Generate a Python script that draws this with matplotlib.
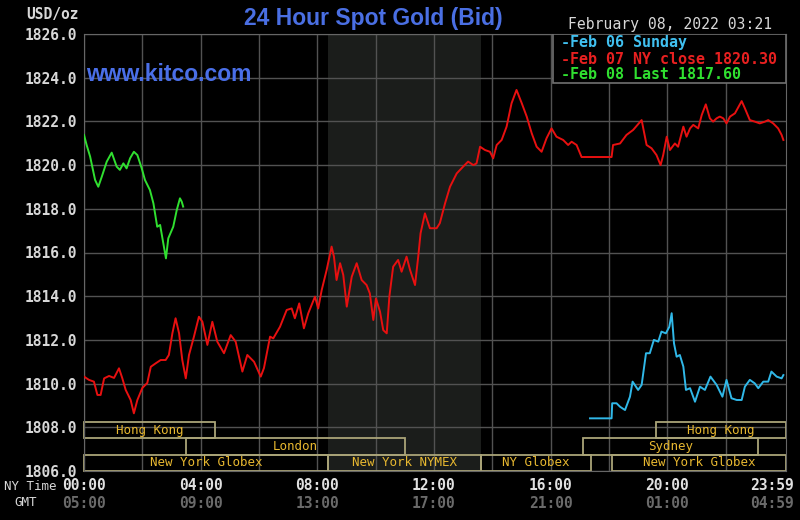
import numpy as np
import matplotlib.pyplot as plt
from matplotlib.patches import Rectangle
import matplotlib.transforms as mtransforms

# hours after 00:00 NY time, price in USD/oz
red_h = [0.00, 0.17, 0.34, 0.46, 0.57, 0.69, 0.86, 1.03, 1.20, 1.31, 1.43, 1.60, 1.71, 1.83,
         2.00, 2.17, 2.29, 2.46, 2.63, 2.80, 2.91, 3.03, 3.14, 3.26, 3.37, 3.49, 3.60, 3.77,
         3.94, 4.06, 4.23, 4.40, 4.57, 4.80, 5.03, 5.20, 5.43, 5.60, 5.83, 6.06, 6.17, 6.38,
         6.49, 6.72, 6.95, 7.12, 7.23, 7.38, 7.54, 7.69, 7.92, 8.03, 8.15, 8.32, 8.49, 8.57,
         8.66, 8.78, 8.89, 9.01, 9.18, 9.35, 9.52, 9.69, 9.80, 9.92, 10.01, 10.15, 10.26,
         10.38, 10.47, 10.60, 10.77, 10.89, 11.06, 11.18, 11.35, 11.46, 11.54, 11.69, 11.86,
         12.09, 12.20, 12.38, 12.55, 12.78, 13.00, 13.17, 13.35, 13.46, 13.58, 13.75, 13.92,
         14.03, 14.15, 14.32, 14.49, 14.66, 14.83, 15.01, 15.18, 15.35, 15.52, 15.69, 15.86,
         16.03, 16.20, 16.43, 16.60, 16.72, 16.89, 17.06, 18.09, 18.14, 18.38, 18.60, 18.83,
         19.12, 19.29, 19.46, 19.63, 19.77, 19.86, 19.98, 20.09, 20.26, 20.37, 20.55, 20.66,
         20.78, 20.89, 21.06, 21.18, 21.32, 21.46, 21.57, 21.69, 21.80, 21.92, 22.03, 22.15,
         22.32, 22.55, 22.66, 22.83, 23.00, 23.17, 23.35, 23.46, 23.63, 23.80, 23.92, 23.98]
red_p = [1810.32, 1810.17, 1810.09, 1809.48, 1809.48, 1810.24, 1810.35, 1810.26, 1810.70,
         1810.26, 1809.71, 1809.25, 1808.64, 1809.25, 1809.80, 1810.03, 1810.77, 1810.93,
         1811.08, 1811.08, 1811.31, 1812.30, 1812.99, 1812.30, 1811.08, 1810.24, 1811.31,
         1812.15, 1813.06, 1812.83, 1811.77, 1812.83, 1811.92, 1811.39, 1812.22, 1811.92,
         1810.55, 1811.31, 1811.00, 1810.32, 1810.71, 1812.15, 1812.07, 1812.60, 1813.37,
         1813.44, 1812.99, 1813.67, 1812.53, 1813.22, 1813.98, 1813.44, 1814.28, 1815.20,
         1816.27, 1815.81, 1814.74, 1815.51, 1814.97, 1813.52, 1814.89, 1815.51, 1814.74,
         1814.51, 1814.13, 1812.91, 1813.90, 1813.29, 1812.45, 1812.30, 1813.98, 1815.35,
         1815.66, 1815.12, 1815.81, 1815.20, 1814.51, 1815.81, 1816.88, 1817.79, 1817.11,
         1817.11, 1817.34, 1818.25, 1819.01, 1819.62, 1819.93, 1820.16, 1820.00, 1820.08,
         1820.84, 1820.69, 1820.61, 1820.31, 1820.92, 1821.15, 1821.76, 1822.83, 1823.44,
         1822.83, 1822.22, 1821.46, 1820.84, 1820.61, 1821.23, 1821.68, 1821.30, 1821.15,
         1820.92, 1821.07, 1820.92, 1820.37, 1820.37, 1820.92, 1820.99, 1821.38, 1821.61,
         1822.06, 1820.92, 1820.77, 1820.46, 1820.00, 1820.46, 1821.30, 1820.69, 1820.99,
         1820.84, 1821.76, 1821.30, 1821.68, 1821.84, 1821.68, 1822.29, 1822.78, 1822.14,
         1821.99, 1822.14, 1822.22, 1822.14, 1821.91, 1822.22, 1822.37, 1822.93, 1822.60,
         1822.06, 1821.99, 1821.91, 1821.99, 1822.06, 1821.91, 1821.68, 1821.38, 1821.15]

green_h = [0.00, 0.09, 0.21, 0.38, 0.49, 0.61, 0.78, 0.95, 1.12, 1.23, 1.35, 1.46, 1.58, 1.71,
           1.83, 1.98, 2.09, 2.26, 2.38, 2.51, 2.61, 2.70, 2.81, 2.89, 3.06, 3.18, 3.29, 3.35, 3.40]
green_p = [1821.38, 1820.92, 1820.39, 1819.32, 1819.01, 1819.47, 1820.16, 1820.57, 1819.93,
           1819.78, 1820.08, 1819.85, 1820.31, 1820.61, 1820.46, 1819.85, 1819.32, 1818.86,
           1818.25, 1817.18, 1817.26, 1816.57, 1815.73, 1816.65, 1817.18, 1817.94, 1818.48,
           1818.33, 1818.10]

cyan_h = [17.35, 18.09, 18.11, 18.26, 18.38, 18.55, 18.72, 18.81, 19.00, 19.12, 19.27, 19.40,
          19.54, 19.69, 19.80, 19.95, 20.07, 20.15, 20.23, 20.32, 20.43, 20.55, 20.64, 20.78,
          20.95, 21.12, 21.29, 21.48, 21.69, 21.89, 22.03, 22.20, 22.38, 22.55, 22.66, 22.83,
          23.00, 23.12, 23.29, 23.46, 23.57, 23.75, 23.92, 23.98]
cyan_p = [1808.41, 1808.41, 1809.10, 1809.10, 1808.94, 1808.79, 1809.40, 1810.09, 1809.71,
          1809.94, 1811.39, 1811.39, 1812.00, 1811.92, 1812.38, 1812.30, 1812.60, 1813.22,
          1811.84, 1811.23, 1811.31, 1810.78, 1809.71, 1809.79, 1809.17, 1809.86, 1809.71,
          1810.32, 1809.94, 1809.40, 1810.17, 1809.33, 1809.25, 1809.25, 1809.86, 1810.17,
          1810.01, 1809.79, 1810.09, 1810.09, 1810.55, 1810.32, 1810.24, 1810.39]

# trading sessions: name, start hour, end hour, row (0 = top)
sess_name = ["Hong Kong", "Hong Kong", "London", "Sydney", "New York Globex",
             "New York NYMEX", "NY Globex", "New York Globex"]
sess_start = [0.0, 19.6, 3.5, 17.1, 0.0, 8.35, 13.6, 18.1]
sess_end = [4.5, 24.07, 11.0, 23.1, 8.35, 13.6, 17.4, 24.07]
sess_row = [0, 0, 1, 1, 2, 2, 2, 2]

tick_h = [0, 4, 8, 12, 16, 20, 24]
ny_labels = ["00:00", "04:00", "08:00", "12:00", "16:00", "20:00", "23:59"]
gmt_labels = ["05:00", "09:00", "13:00", "17:00", "21:00", "01:00", "04:59"]

mono = "DejaVu Sans Mono"
W, H = 800, 520

fig = plt.figure(figsize=(8, 5.2), dpi=100, facecolor="black")
ax = fig.add_axes([84/W, 49/H, 702/W, 437/H])
ax.set_facecolor("black")
ax.set_xlim(0, 24.07)
ax.set_ylim(1806, 1826)

ax.set_xticks(np.arange(0, 23, 2))
ax.set_xticklabels([])
ax.set_yticks(np.arange(1806, 1826.1, 2))
ax.set_yticklabels([f"{v:.1f}" for v in np.arange(1806, 1826.1, 2)])
ax.tick_params(length=0)
ax.tick_params(axis="y", pad=5, labelcolor="#d8d8d8", labelsize=10.5)
for lab in ax.get_yticklabels():
    lab.set_fontfamily(mono)
    lab.set_fontweight("bold")
ax.set_axisbelow(True)
ax.grid(color="#525252", lw=1)
for s in ax.spines.values():
    s.set_color("#666666")

ax.axvspan(8.35, 13.6, color="#1b1d1b", zorder=0.2, lw=0)

row_top = [1808.25, 1807.5, 1806.75]
for name, a, b, r in zip(sess_name, sess_start, sess_end, sess_row):
    y0 = row_top[r] - 0.75
    ax.add_patch(Rectangle((a, y0), b - a, 0.75, fill=False, ec="#aaa478",
                           lw=1.3, zorder=2, clip_on=False))
    ax.text((a + b) / 2, y0 + 0.37, name, ha="center", va="center", color="#e8b830",
            fontsize=9, family=mono, zorder=3)

ax.plot(red_h, red_p, color="#e81010", lw=1.4, zorder=4)
ax.plot(green_h, green_p, color="#30e030", lw=1.4, zorder=4)
ax.plot(cyan_h, cyan_p, color="#30b8e8", lw=1.4, zorder=4)

# legend box
ax.add_patch(Rectangle((0.668, 0.888), 0.332, 0.112, transform=ax.transAxes,
                       fc="black", ec="#707070", lw=1.2, zorder=5))
leg = [("-Feb 06 Sunday", "#40c0f0"), ("-Feb 07 NY close 1820.30", "#e82020"),
       ("-Feb 08 Last 1817.60", "#30e030")]
for i, (txt, c) in enumerate(leg):
    fig.text(561/W, 1 - (43 + 16*i)/H, txt, color=c, fontsize=10.8, family=mono,
             fontweight="bold", va="center", zorder=6)

fig.text(373/W, 1 - 18/H, "24 Hour Spot Gold (Bid)", ha="center", va="center",
         color="#4a6fe3", fontsize=16.5, fontweight="bold", family="Liberation Sans")
ax.text(0.003, 0.907, "www.kitco.com", transform=ax.transAxes, va="center",
        color="#4a6fe8", fontsize=16.5, fontweight="bold", family="Liberation Sans", zorder=3)
fig.text(568/W, 1 - 25/H, "February 08, 2022 03:21", va="center", color="#d8d8d8",
         fontsize=10.6, family=mono)
fig.text(79/W, 1 - 15/H, "USD/oz", ha="right", va="center", color="#d8d8d8",
         fontsize=10.5, family=mono, fontweight="bold")

trans = mtransforms.blended_transform_factory(ax.transData, fig.transFigure)
for h, ny, gmt in zip(tick_h, ny_labels, gmt_labels):
    tr = trans
    if h == 24:
        tr = mtransforms.offset_copy(trans, fig=fig, x=-12, units="dots")
    ax.text(h, 1 - 486/H, ny, transform=tr, ha="center", va="center", color="#e0e0e0",
            fontsize=10.5, family=mono, fontweight="bold")
    ax.text(h, 1 - 503/H, gmt, transform=tr, ha="center", va="center", color="#6a6a6a",
            fontsize=10.5, family=mono, fontweight="bold")
fig.text(57/W, 1 - 486/H, "NY Time", ha="right", va="center", color="#d8d8d8",
         fontsize=9, family=mono)
fig.text(26/W, 1 - 503/H, "GMT", ha="center", va="center", color="#d8d8d8",
         fontsize=9, family=mono)

fig.savefig("out.png", dpi=100, facecolor="black")
